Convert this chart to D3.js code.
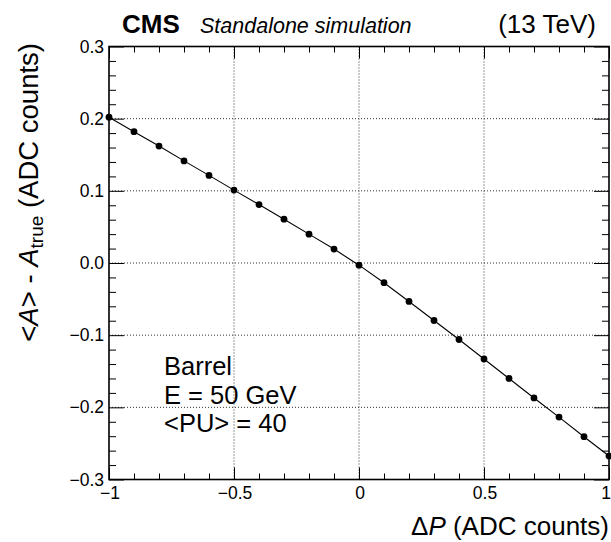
<!DOCTYPE html>
<html>
<head>
<meta charset="utf-8">
<script src="https://cdn.jsdelivr.net/npm/d3@7"></script>
<style>
  html, body { margin: 0; padding: 0; background: #fff; }
  svg { display: block; font-family: "Liberation Sans", Arial, Helvetica, sans-serif; }
</style>
</head>
<body>
<svg id="chart" width="611" height="542"></svg>
<script>
// ---- data ----
const deltaP = [-1.0, -0.9, -0.8, -0.7, -0.6, -0.5, -0.4, -0.3, -0.2, -0.1, 0.0,
                0.1, 0.2, 0.3, 0.4, 0.5, 0.6, 0.7, 0.8, 0.9, 1.0];
const bias = [0.202, 0.182, 0.162, 0.1415, 0.1214, 0.101, 0.081, 0.0607, 0.040, 0.0193, -0.003,
              -0.0273, -0.0533, -0.0797, -0.106, -0.133, -0.160, -0.187, -0.2135, -0.2407, -0.2675];
const xMajorTicks = [-1, -0.5, 0, 0.5, 1];
const xTickLabels = ["\u22121", "\u22120.5", "0", "0.5", "1"];
const yMajorTicks = [-0.3, -0.2, -0.1, 0.0, 0.1, 0.2, 0.3];
const yTickLabels = ["\u22120.3", "\u22120.2", "\u22120.1", "0.0", "0.1", "0.2", "0.3"];
const legendLines = ["Barrel", "E = 50 GeV", "<PU> = 40"];

// ---- layout ----
const L = 109, R = 609, T = 46.5, B = 479.5;
const svg = d3.select("#chart");
const x = d3.scaleLinear().domain([-1, 1]).range([L, R]);
const y = d3.scaleLinear().domain([-0.3, 0.3]).range([B, T]);

const xMinor = d3.range(-10, 11).map(i => i / 10);
const yMinor = d3.range(-15, 16).map(i => i / 50);

// grid
const grid = svg.append("g");
grid.selectAll("line.gx").data(xMajorTicks.slice(1, -1)).enter().append("line")
  .attr("x1", d => x(d)).attr("x2", d => x(d)).attr("y1", T).attr("y2", B)
  .attr("stroke", "#333").attr("stroke-width", 1).attr("stroke-dasharray", "1,2");
grid.selectAll("line.gy").data(yMajorTicks.slice(1, -1)).enter().append("line")
  .attr("y1", d => y(d)).attr("y2", d => y(d)).attr("x1", L).attr("x2", R)
  .attr("stroke", "#333").attr("stroke-width", 1).attr("stroke-dasharray", "1,2");

// axes via d3 axis
const isMajX = v => xMajorTicks.some(t => Math.abs(t - v) < 1e-9);
const isMajY = v => yMajorTicks.some(t => Math.abs(t - v) < 1e-9);

function addTicks(axisGen, transform) {
  const g = svg.append("g").attr("transform", transform).call(axisGen);
  g.select(".domain").remove();
  g.selectAll("text").remove();
  g.selectAll("line").attr("stroke", "#000").attr("stroke-width", 1);
  return g;
}
// bottom
addTicks(d3.axisTop(x).tickValues(xMinor).tickSize(0), `translate(0,${B})`)
  .selectAll(".tick line").attr("y2", d => isMajX(d) ? -12 : -6);
// top
addTicks(d3.axisBottom(x).tickValues(xMinor).tickSize(0), `translate(0,${T})`)
  .selectAll(".tick line").attr("y2", d => isMajX(d) ? 12 : 6);
// left
addTicks(d3.axisRight(y).tickValues(yMinor).tickSize(0), `translate(${L},0)`)
  .selectAll(".tick line").attr("x2", d => isMajY(d) ? 15 : 7);
// right
addTicks(d3.axisLeft(y).tickValues(yMinor).tickSize(0), `translate(${R},0)`)
  .selectAll(".tick line").attr("x2", d => isMajY(d) ? -15 : -7);

// frame
svg.append("rect").attr("x", L).attr("y", T).attr("width", R - L).attr("height", B - T)
  .attr("fill", "none").attr("stroke", "#000").attr("stroke-width", 1.6);

// tick labels
svg.append("g").selectAll("text").data(xMajorTicks).enter().append("text")
  .attr("x", (d, i) => i === xMajorTicks.length - 1 ? 611 : x(d) + 1)
  .attr("y", 498.5)
  .attr("text-anchor", (d, i) => i === xMajorTicks.length - 1 ? "end" : "middle")
  .attr("font-size", 17.5).text((d, i) => xTickLabels[i]);
svg.append("g").selectAll("text").data(yMajorTicks).enter().append("text")
  .attr("x", 104).attr("y", d => y(d) + 6).attr("text-anchor", "end")
  .attr("font-size", 17.5).text((d, i) => yTickLabels[i]);

// data line + markers
const line = d3.line().x((d, i) => x(deltaP[i])).y(d => y(d));
svg.append("path").datum(bias).attr("d", line)
  .attr("fill", "none").attr("stroke", "#000").attr("stroke-width", 1.1);
svg.append("g").selectAll("circle").data(bias).enter().append("circle")
  .attr("cx", (d, i) => x(deltaP[i])).attr("cy", d => y(d)).attr("r", 3.4).attr("fill", "#000");

// axis titles
const xt = svg.append("text").attr("x", 609).attr("y", 535).attr("text-anchor", "end")
  .attr("font-size", 26);
xt.append("tspan").text("\u0394");
xt.append("tspan").attr("font-style", "italic").text("P");
xt.append("tspan").text(" (ADC counts)");

const yt = svg.append("text").attr("transform", "translate(37.5,43) rotate(-90)")
  .attr("text-anchor", "end").attr("font-size", 27.5);
yt.append("tspan").text("<");
yt.append("tspan").attr("font-style", "italic").text("A");
yt.append("tspan").text("> - ");
yt.append("tspan").attr("font-style", "italic").text("A");
yt.append("tspan").attr("font-size", 19).attr("dy", 5).text("true");
yt.append("tspan").attr("dy", -5).text(" (ADC counts)");

// header
svg.append("text").attr("x", 122).attr("y", 33).attr("font-size", 26).attr("font-weight", "bold").text("CMS");
svg.append("text").attr("x", 200).attr("y", 33).attr("font-size", 21.5).attr("font-style", "italic").text("Standalone simulation");
svg.append("text").attr("x", 596).attr("y", 33).attr("text-anchor", "end").attr("font-size", 26).text("(13 TeV)");

// legend text
svg.append("g").selectAll("text").data(legendLines).enter().append("text")
  .attr("x", 164).attr("y", (d, i) => 375 + i * 28.5).attr("font-size", 25.5).text(d => d);
</script>
</body>
</html>
